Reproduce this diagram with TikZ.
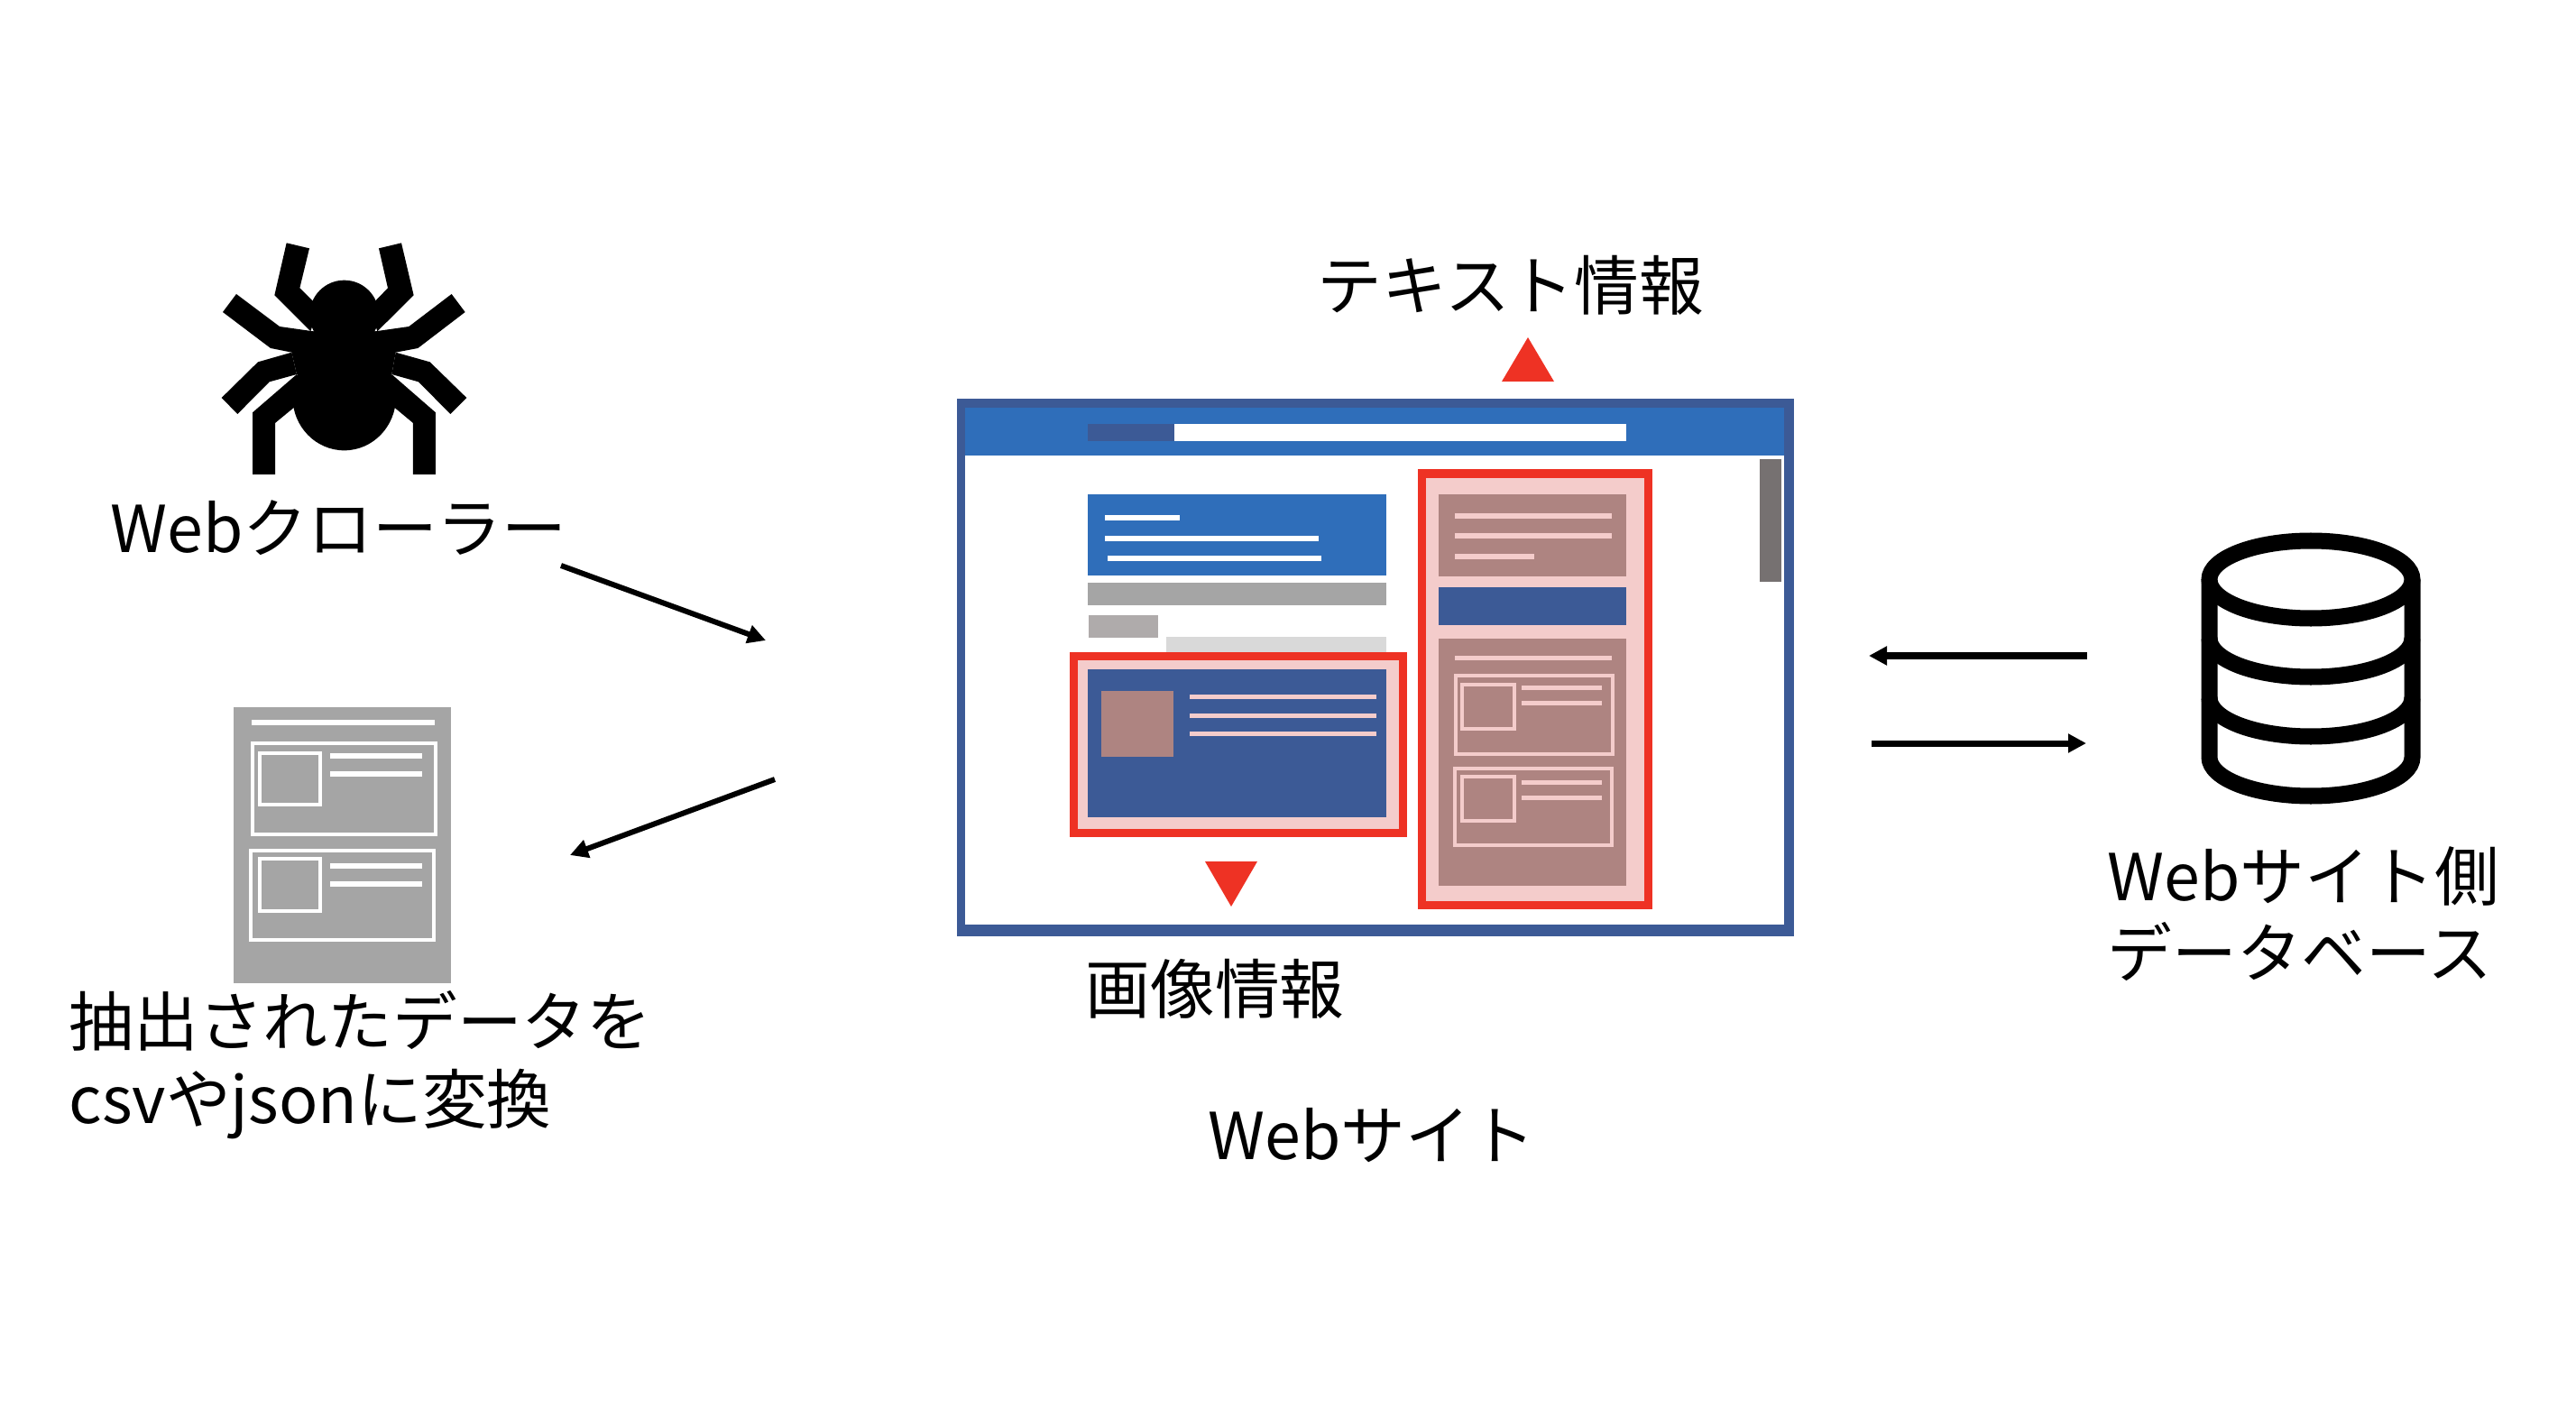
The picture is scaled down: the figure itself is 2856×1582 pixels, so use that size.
\documentclass[tikz,border=0pt]{standalone}
\usepackage{fontspec}
\setmainfont{Noto Sans CJK JP}
\usetikzlibrary{arrows.meta}
\definecolor{navyblue}{HTML}{3C5A96}
\definecolor{barblue}{HTML}{2F6EBA}
\definecolor{boxred}{HTML}{EE3224}
\definecolor{boxpink}{HTML}{F4CCCB}
\definecolor{boxbrown}{HTML}{AE8481}
\definecolor{midgray}{HTML}{A5A5A5}
\definecolor{warmgray}{HTML}{AFABAB}
\definecolor{palegray}{HTML}{D9D9D9}
\definecolor{scrollgray}{HTML}{767171}
\tikzset{
	lab/.style={font=\fontsize{20.4}{24.4}\selectfont, inner sep=0pt, align=left},
	redbox/.style={draw=boxred, fill=boxpink, line width=0.09cm},
	arrowline/.style={-{Triangle[length=0.2cm,width=0.2cm]}, black, line width=0.06cm},
	flatarrow/.style={arrowline, line width=0.07cm},
	whitebar/.style={white, line width=0.055cm},
	pinkbar/.style={boxpink, line width=0.05cm},
	pinkframe/.style={draw=boxpink, line width=0.04cm},
	whiteframe/.style={draw=white, line width=0.04cm}
}

\begin{document}
\begin{tikzpicture}[x=0.01cm, y=-0.01cm]
	\useasboundingbox (0,0) rectangle (2856,1582);

	% spider
	\begin{scope}[shift={(200,240)}, scale=1/3]
		\fill (545,327) ellipse (115 and 115);
		\fill (545,600) ellipse (172 and 178);
		\fill (433,382) -- (370,452) -- (387,525) -- (703,525) -- (716,452) -- (655,382) -- cycle;
		\fill (353,88) -- (429,106) -- (397,238) -- (460,300) -- (433,382) -- (313,262) -- cycle;
		\fill (735,88) -- (660,106) -- (690,238) -- (630,300) -- (655,382) -- (776,262) -- cycle;
		\fill (186,258) -- (330,366) -- (470,386) -- (470,460) -- (370,452) -- (300,438) -- (141,318) -- cycle;
		\fill (902,258) -- (760,366) -- (620,386) -- (620,460) -- (716,452) -- (790,438) -- (947,318) -- cycle;
		\fill (370,452) -- (258,484) -- (137,603) -- (190,657) -- (296,550) -- (387,525) -- cycle;
		\fill (716,452) -- (830,484) -- (952,603) -- (898,657) -- (792,550) -- (703,525) -- cycle;
		\fill (387,525) -- (240,652) -- (240,858) -- (315,858) -- (315,687) -- (400,617) -- cycle;
		\fill (703,525) -- (849,652) -- (849,858) -- (774,858) -- (774,687) -- (690,617) -- cycle;
	\end{scope}

	% extracted document
	\fill[midgray] (259,784) rectangle (500,1090);
	\draw[whitebar] (279,801) -- (482,801);
	\draw[whiteframe] (280,824) rectangle (483,925);
	\draw[whiteframe] (288,835) rectangle (355,892);
	\draw[whitebar] (366,838) -- (468,838);
	\draw[whitebar] (366,858) -- (468,858);
	\draw[whiteframe] (278,943) rectangle (481,1042);
	\draw[whiteframe] (288,952) rectangle (355,1010);
	\draw[whitebar] (366,960) -- (468,960);
	\draw[whitebar] (366,980) -- (468,980);

	% browser
	\fill[navyblue] (1061,442) rectangle (1989,1038);
	\fill[white] (1070,505) rectangle (1978,1025);
	\fill[barblue] (1070,452) rectangle (1978,505);
	\fill[navyblue] (1206,470) rectangle (1302,489);
	\fill[white] (1302,470) rectangle (1803,489);
	\fill[scrollgray] (1951,509) rectangle (1975,645);

	\fill[barblue] (1206,548) rectangle (1537,638);
	\draw[whitebar] (1225,574) -- (1308,574);
	\draw[whitebar] (1225,597) -- (1462,597);
	\draw[whitebar] (1228,619) -- (1465,619);
	\fill[midgray] (1206,646) rectangle (1537,671);
	\fill[warmgray] (1207,682) rectangle (1284,707);
	\fill[palegray] (1293,706) rectangle (1537,726);

	% image block
	\filldraw[redbox] (1190.5,727.5) rectangle (1555.5,923);
	\fill[navyblue] (1206,742) rectangle (1537,906);
	\fill[boxbrown] (1221,766) rectangle (1301,839);
	\draw[pinkbar] (1319,772) -- (1526,772);
	\draw[pinkbar] (1319,793) -- (1526,793);
	\draw[pinkbar] (1319,813) -- (1526,813);

	% text block
	\filldraw[redbox] (1576.5,525) rectangle (1827.5,1003);
	\fill[boxbrown] (1595,548) rectangle (1803,639);
	\draw[pinkbar] (1613,572) -- (1787,572);
	\draw[pinkbar] (1613,594) -- (1787,594);
	\draw[pinkbar] (1613,617) -- (1701,617);
	\fill[navyblue] (1595,651) rectangle (1803,693);
	\fill[boxbrown] (1595,708) rectangle (1803,982);
	\draw[pinkbar] (1613,729) -- (1787,729);
	\draw[pinkframe] (1614,749) rectangle (1788,836);
	\draw[pinkframe] (1621,759) rectangle (1679,808);
	\draw[pinkbar] (1687,762) -- (1776,762);
	\draw[pinkbar] (1687,779) -- (1776,779);
	\draw[pinkframe] (1613,852) rectangle (1787,937);
	\draw[pinkframe] (1621,861) rectangle (1679,910);
	\draw[pinkbar] (1687,867) -- (1776,867);
	\draw[pinkbar] (1687,884) -- (1776,884);

	% red markers
	\fill[boxred] (1665,423) -- (1723,423) -- (1694,374) -- cycle;
	\fill[boxred] (1336,955) -- (1394,955) -- (1365,1005) -- cycle;

	% database
	\draw[line width=0.18cm] (2562,642.5) ellipse (112.5 and 43);
	\draw[line width=0.18cm] (2449.5,642.5) -- (2449.5,839.5) arc (180:0:112.5 and 43) -- (2674.5,642.5);
	\draw[line width=0.18cm] (2449.5,707.5) arc (180:0:112.5 and 43);
	\draw[line width=0.18cm] (2449.5,773.5) arc (180:0:112.5 and 43);

	% labels
	\node[lab, anchor=west] (crawlerlab) at (122,585) {Webクローラー};
	\node[lab, anchor=center] (textlab) at (1675,316) {テキスト情報};
	\node[lab, anchor=center] (imagelab) at (1347,1096) {画像情報};
	\node[lab, anchor=center] (sitelab) at (1521,1259) {Webサイト};
	\node[lab, anchor=west] (dblab) at (2336,1013) {Webサイト側\\データベース};
	\node[lab, anchor=west] (csvlab) at (76,1181) {抽出されたデータを\\csvやjsonに変換};

	% arrows
	\coordinate (crawlfrom) at (622,627);
	\coordinate (crawlto) at (849,710);
	\coordinate (datafrom) at (859,864);
	\coordinate (datato) at (632,948);
	\coordinate (dbfrom) at (2314,727);
	\coordinate (dbto) at (2072,727);
	\coordinate (sitefrom) at (2075,824);
	\coordinate (siteto) at (2313,824);
	\draw[arrowline] (crawlfrom) -- (crawlto);
	\draw[arrowline] (datafrom) -- (datato);
	\draw[flatarrow] (dbfrom) -- (dbto);
	\draw[flatarrow] (sitefrom) -- (siteto);
\end{tikzpicture}
\end{document}
